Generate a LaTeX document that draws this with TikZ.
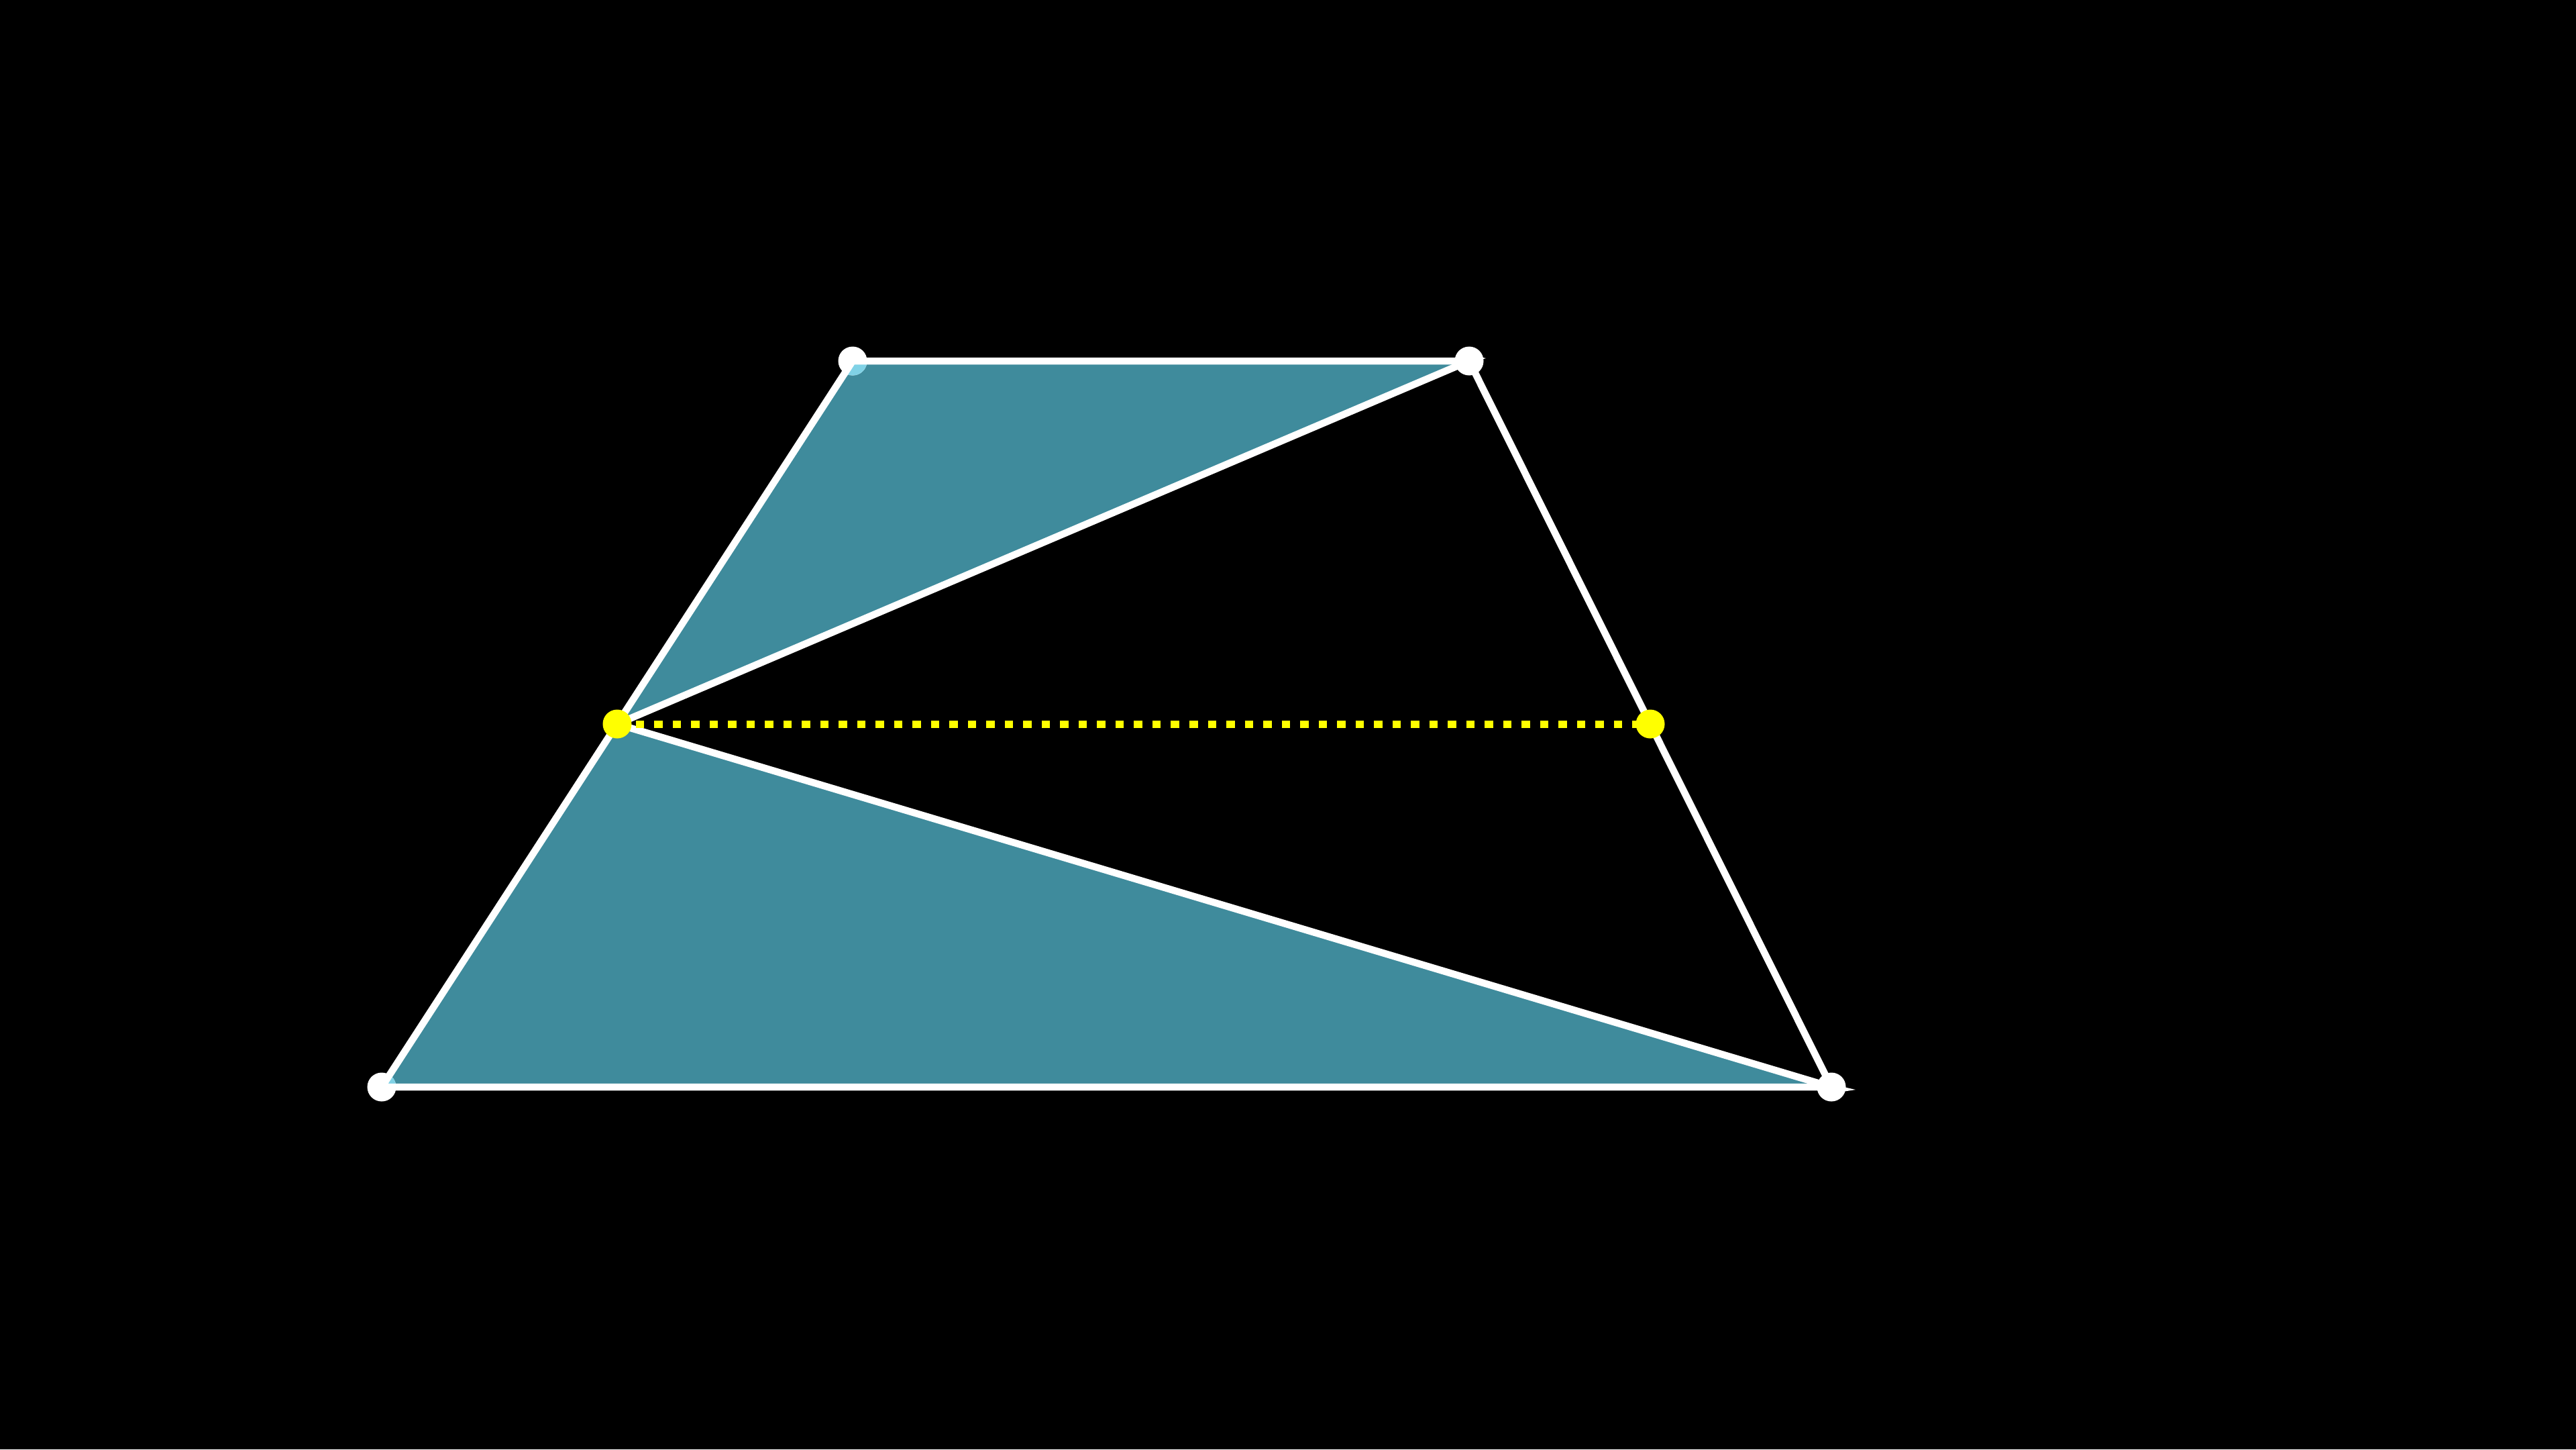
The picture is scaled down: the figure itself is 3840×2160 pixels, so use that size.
\documentclass[tikz,border=0pt]{standalone}
\definecolor{tealfill}{HTML}{3F8B9C}
\definecolor{tint}{HTML}{80D2E6}
\definecolor{ptyellow}{HTML}{FFFF00}
\tikzset{
  edge/.style={draw=white, line width=0.105cm, line cap=round, line join=round},
  wdot/.style={circle, fill=white, inner sep=0pt, minimum size=0.43cm},
  ydot/.style={circle, fill=ptyellow, inner sep=0pt, minimum size=0.43cm},
  midline/.style={draw=ptyellow, line width=0.11cm, dash pattern=on 0.125cm off 0.15cm},
}
\begin{document}
\begin{tikzpicture}[x=0.01cm, y=-0.01cm]
  \fill[black] (0,0) rectangle (3840,2160);
  \useasboundingbox (0,0) rectangle (3840,2160);
  \coordinate (A) at (1271,538);
  \coordinate (B) at (2190,538);
  \coordinate (C) at (2730,1620);
  \coordinate (D) at (569,1620);
  \coordinate (E) at (920,1079);
  \coordinate (F) at (2460,1079);
  % shaded triangles
  \fill[tealfill] (A) -- (B) -- (E) -- cycle;
  \fill[tealfill] (E) -- (C) -- (D) -- cycle;
  % white dots at A and D, tinted where the fill lies over them
  \node[wdot] (nA) at (A) {};
  \node[wdot] (nD) at (D) {};
  \begin{scope}
    \clip (A) -- (B) -- (E) -- cycle;
    \fill[tint] (A) circle (21.5);
  \end{scope}
  \begin{scope}
    \clip (E) -- (C) -- (D) -- cycle;
    \fill[tint] (D) circle (21.5);
  \end{scope}
  % small spikes
  \fill[white] (2200,530) -- (2215,534) -- (2200,538) -- cycle;
  \fill[white] (2740,1618) -- (2766,1624) -- (2740,1628) -- cycle;
  % edges
  \draw[edge] (nA.center) -- (B) -- (C) -- (nD.center) -- cycle;
  \draw[edge] (B) -- (E) -- (C);
  \draw[midline] (E) -- (F);
  % dots
  \node[wdot] (nB) at (B) {};
  \node[wdot] (nC) at (C) {};
  \node[ydot] (nE) at (E) {};
  \node[ydot] (nF) at (F) {};
\end{tikzpicture}
\end{document}
